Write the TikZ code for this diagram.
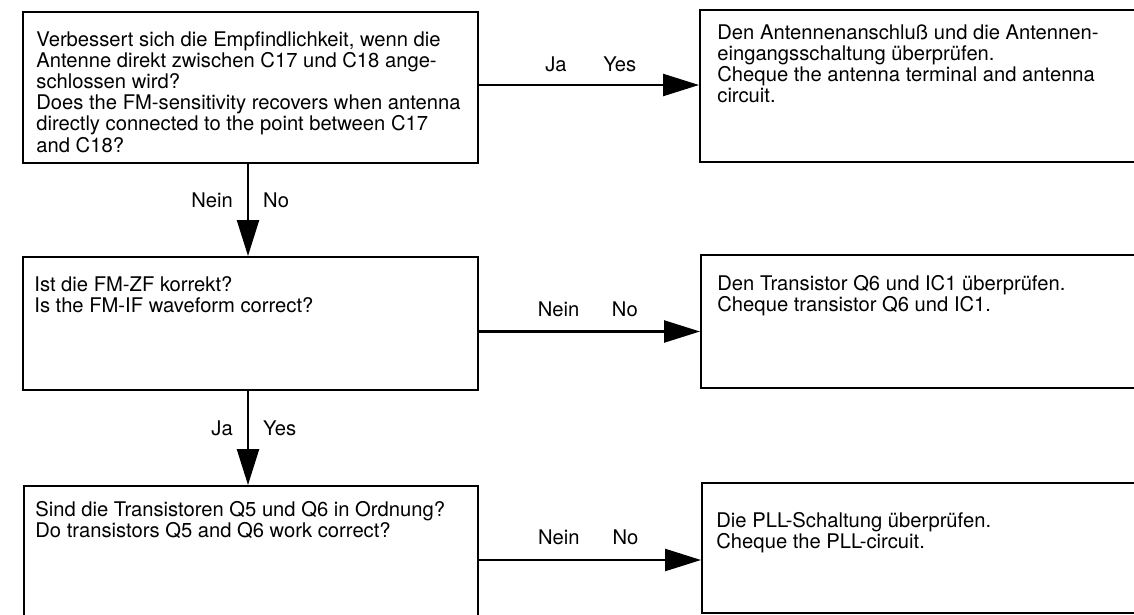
\documentclass[tikz,border=0pt]{standalone}
\usepackage{fontspec}
\setmainfont{TeX Gyre Heros}
\usetikzlibrary{arrows.meta,positioning}

\begin{document}
\begin{tikzpicture}[x=0.5pt,y=-0.5pt,
        box/.style={draw,line width=1pt,inner sep=0pt},
        txt/.style={anchor=north west,inner sep=0pt,align=left,
            font=\fontsize{10.1}{10.6}\selectfont},
        lbl/.style={inner sep=0pt,text height=7pt,text depth=0pt,
            font=\fontsize{10.1}{10.6}\selectfont},
        flow/.style={line width=1.2pt,-{Triangle[length=18pt,width=11pt]}}]
    \useasboundingbox (0,0) rectangle (1134,615);
    \clip (0,0) rectangle (1134,615);

    % questions (left column)
    \node[box,minimum width=227.5pt,minimum height=75.5pt] (q1) at (250.5,87.5) {};
    \node[box,minimum width=227.5pt,minimum height=66.5pt] (q2) at (250.5,323.5) {};
    \node[box,minimum width=227pt,minimum height=70pt] (q3) at (251,556) {};

    % actions (right column, cut at the page edge)
    \node[box,minimum width=250pt,minimum height=76pt] (a1) at (950,86) {};
    \node[box,minimum width=249.5pt,minimum height=66.5pt] (a2) at (950.5,321.5) {};
    \node[box,minimum width=249pt,minimum height=65pt] (a3) at (951,548) {};

    \node[txt] (t1) at ([shift={(7pt,-10pt)}]q1.north west)
        {Verbessert sich die Empfindlichkeit, wenn die\\
         Antenne direkt zwischen C17 und C18 ange-\\
         schlossen wird?\\
         Does the FM-sensitivity recovers when antenna\\
         directly connected to the point between C17\\
         and C18?};
    \node[txt] (t2) at ([shift={(6pt,-10pt)}]q2.north west)
        {Ist die FM-ZF korrekt?\\
         Is the FM-IF waveform correct?};
    \node[txt] (t3) at ([shift={(6pt,-8pt)}]q3.north west)
        {Sind die Transistoren Q5 und Q6 in Ordnung?\\
         Do transistors Q5 and Q6 work correct?};

    \node[txt] (s1) at ([shift={(9pt,-7.5pt)}]a1.north west)
        {Den Antennenanschluß und die Antennen-\\
         eingangsschaltung überprüfen.\\
         Cheque the antenna terminal and antenna\\
         circuit.};
    \node[txt] (s2) at ([shift={(8.5pt,-10.5pt)}]a2.north west)
        {Den Transistor Q6 und IC1 überprüfen.\\
         Cheque transistor Q6 und IC1.};
    \node[txt] (s3) at ([shift={(7.5pt,-15pt)}]a3.north west)
        {Die PLL-Schaltung überprüfen.\\
         Cheque the PLL-circuit.};

    \draw[flow]
        ([yshift=1.25pt]q1.east) -- ([yshift=1.25pt]q1.east -| a1.west)
            node[lbl,pos=0.35,above=6pt] {Ja}
            node[lbl,pos=0.64,above=6pt] {Yes};
    \draw[flow]
        ([yshift=-4pt]q2.east) -- ([yshift=-4pt]q2.east -| a2.west)
            node[lbl,pos=0.36,above=7pt] {Nein}
            node[lbl,pos=0.66,above=7pt] {No};
    \draw[flow]
        ([yshift=-2pt]q3.east) -- ([yshift=-2pt]q3.east -| a3.west)
            node[lbl,pos=0.36,above=7pt] {Nein}
            node[lbl,pos=0.66,above=7pt] {No};

    \draw[flow]
        ([xshift=-1.25pt]q1.south) -- ([xshift=-1.25pt]q2.north)
            node[lbl,pos=0.4,left=7pt] {Nein}
            node[lbl,pos=0.4,right=7pt] {No};
    \draw[flow]
        ([xshift=-1.25pt]q2.south) -- ([xshift=-1.25pt]q2.south |- q3.north)
            node[lbl,pos=0.4,left=7pt] {Ja}
            node[lbl,pos=0.4,right=7pt] {Yes};
\end{tikzpicture}
\end{document}
